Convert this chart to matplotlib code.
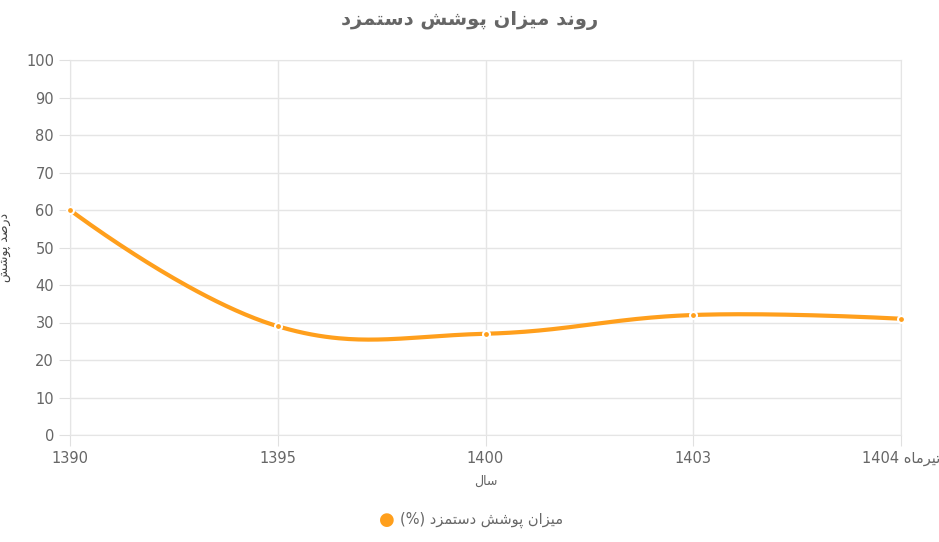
import numpy as np
import matplotlib.pyplot as plt

years = ['1390', '1395', '1400', '1403', '1404']
coverage = [60, 29, 27, 32, 31]

# minimal Persian shaping (presentation forms), right-to-left
FORMS = {
    'ا': ('\uFE8D', '\uFE8E', None, None), 'د': ('\uFEA9', '\uFEAA', None, None),
    'ر': ('\uFEAD', '\uFEAE', None, None), 'ز': ('\uFEAF', '\uFEB0', None, None),
    'و': ('\uFEED', '\uFEEE', None, None),
    'ن': ('\uFEE5', '\uFEE6', '\uFEE7', '\uFEE8'), 'م': ('\uFEE1', '\uFEE2', '\uFEE3', '\uFEE4'),
    'ی': ('\uFBFC', '\uFBFD', '\uFBFE', '\uFBFF'), 'پ': ('\uFB56', '\uFB57', '\uFB58', '\uFB59'),
    'ش': ('\uFEB5', '\uFEB6', '\uFEB7', '\uFEB8'), 'س': ('\uFEB1', '\uFEB2', '\uFEB3', '\uFEB4'),
    'ت': ('\uFE95', '\uFE96', '\uFE97', '\uFE98'), 'ل': ('\uFEDD', '\uFEDE', '\uFEDF', '\uFEE0'),
    'ه': ('\uFEE9', '\uFEEA', '\uFEEB', '\uFEEC'), 'ص': ('\uFEB9', '\uFEBA', '\uFEBB', '\uFEBC'),
}


def fa(s):
    out = []
    for i, c in enumerate(s):
        if c not in FORMS:
            out.append(c)
            continue
        p = s[i - 1] if i > 0 else ''
        n = s[i + 1] if i + 1 < len(s) else ''
        jp = p in FORMS and FORMS[p][2] is not None
        jn = n in FORMS and FORMS[c][2] is not None
        iso, fin, ini, med = FORMS[c]
        out.append(med if jp and jn else fin if jp else ini if jn else iso)
    return ''.join(out[::-1])


W, H = 939, 542
fig = plt.figure(figsize=(W / 100, H / 100), dpi=100)
l, r, t, b = 70, 901, 60, 435
ax = fig.add_axes([l / W, 1 - b / H, (r - l) / W, (b - t) / H])
ax.set_xlim(0, 4)
ax.set_ylim(0, 100)

# chart.js style spline (tension 0.4) computed in pixel space
sx = (r - l) / 4
sy = (b - t) / 100
pts = np.array([[i * sx, v * sy] for i, v in enumerate(coverage)])
n = len(pts)
cp_prev = pts.copy()
cp_next = pts.copy()
for i in range(1, n - 1):
    p0, p1, p2 = pts[i - 1], pts[i], pts[i + 1]
    d01 = np.hypot(*(p1 - p0))
    d12 = np.hypot(*(p2 - p1))
    s01 = d01 / (d01 + d12)
    s12 = d12 / (d01 + d12)
    cp_prev[i] = p1 - 0.4 * s01 * (p2 - p0)
    cp_next[i] = p1 + 0.4 * s12 * (p2 - p0)
tt = np.linspace(0, 1, 60)[:, None]
curve = []
for i in range(n - 1):
    a, c1, c2, d = pts[i], cp_next[i], cp_prev[i + 1], pts[i + 1]
    seg = (1 - tt) ** 3 * a + 3 * (1 - tt) ** 2 * tt * c1 + 3 * (1 - tt) * tt ** 2 * c2 + tt ** 3 * d
    curve.append(seg)
curve = np.vstack(curve)
ax.plot(curve[:, 0] / sx, curve[:, 1] / sy, color='#FF9F1C', lw=3, solid_capstyle='round', clip_on=False, zorder=3)
ax.plot(range(n), coverage, 'o', ms=5, mfc='#FF9F1C', mec='white', mew=1.5, clip_on=False, zorder=4)

ax.set_yticks(range(0, 101, 10))
ax.set_xticks(range(n))
labels = years[:-1] + [years[-1] + ' ' + fa('تیرماه')]
ax.set_xticklabels(labels)
ax.tick_params(colors='#666666', labelsize=10.5, length=8, color='#e0e0e0')
ax.grid(color='#e5e5e5', lw=1)
for s in ax.spines.values():
    s.set_color('#e5e5e5')
ax.set_xlabel(fa('سال'), color='#666666', fontsize=9, labelpad=6)
ax.set_ylabel(fa('درصد پوشش'), color='#444444', fontsize=9, labelpad=10)

fig.text(0.5, 1 - 20 / H, fa('روند میزان پوشش دستمزد'), ha='center', va='center',
         fontsize=14, fontweight='bold', color='#666666')
fig.text(387 / W, 1 - 520 / H, '\u25CF', ha='center', va='center', fontsize=13, color='#FF9F1C')
fig.text(400 / W, 1 - 520 / H, '(%) ' + fa('میزان پوشش دستمزد'), ha='left', va='center',
         fontsize=10.5, color='#666666')

fig.savefig('out.png', dpi=100)
